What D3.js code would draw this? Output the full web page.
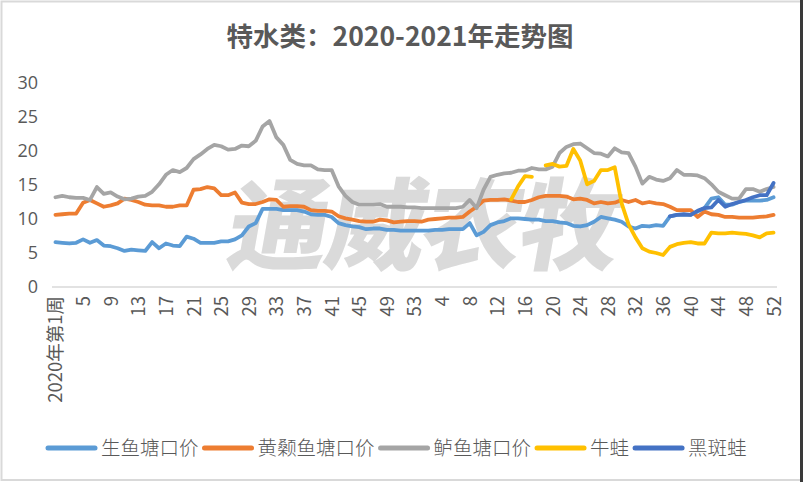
<!DOCTYPE html>
<html>
<head>
<meta charset="utf-8">
<script src="https://cdn.jsdelivr.net/npm/d3@7"></script>
<style>
  html, body { margin: 0; padding: 0; background: #ffffff; }
  svg { display: block; }
</style>
</head>
<body>
<svg id="chart" width="804" height="482"></svg>
<script>
// ---------- data ----------
const title = "特水类：2020-2021年走势图";
const watermark = "通威农牧";
const weeks2020 = d3.range(1, 54).map(w => "2020-" + w);
const weeks2021 = d3.range(1, 53).map(w => "2021-" + w);
const categories = weeks2020.concat(weeks2021);

const tickLabels = ["2020年第1周","5","9","13","17","21","25","29","33","37","41","45","49","53",
                    "4","8","12","16","20","24","28","32","36","40","44","48","52"];
const yTicks = [0, 5, 10, 15, 20, 25, 30];

const seriesNames = ["生鱼塘口价", "黄颡鱼塘口价", "鲈鱼塘口价", "牛蛙", "黑斑蛙"];
const seriesColors = ["#5B9BD5", "#ED7D31", "#A5A5A5", "#FFC000", "#4472C4"];

const shengyu = [
  6.6, 6.5, 6.4, 6.5, 7.0, 6.5, 6.9, 6.1, 6.0, 5.7,
  5.3, 5.5, 5.4, 5.3, 6.6, 5.7, 6.4, 6.1, 6.0, 7.4,
  7.1, 6.5, 6.5, 6.5, 6.7, 6.7, 7.0, 7.6, 8.9, 9.4,
  11.5, 11.5, 11.5, 11.3, 11.3, 11.3, 11.1, 10.7, 10.6, 10.6,
  10.3, 9.4, 9.1, 8.9, 8.8, 8.5, 8.6, 8.6, 8.4, 8.4,
  8.3, 8.3, 8.3, 8.3, 8.3, 8.4, 8.4, 8.5, 8.5, 8.5,
  9.4, 7.6, 8.1, 9.1, 9.5, 9.7, 10.1, 10.1, 10.0, 9.9,
  9.9, 9.7, 9.7, 9.5, 9.4, 9.0, 8.9, 9.1, 9.6, 10.3,
  10.1, 9.9, 9.6, 8.9, 8.6, 9.0, 8.9, 9.1, 9.0, 10.4,
  10.6, 10.6, 10.6, 11.1, 11.6, 13.0, 13.2, 12.1, 12.1, 12.5,
  12.7, 12.7, 12.7, 12.8, 13.2
];
const huangsang = [
  10.6, 10.7, 10.8, 10.8, 12.4, 12.8, 12.3, 11.8, 12.0, 12.3,
  13.0, 12.8, 12.5, 12.1, 12.0, 12.0, 11.8, 11.8, 12.0, 12.0,
  14.3, 14.4, 14.7, 14.5, 13.5, 13.5, 13.9, 12.4, 12.2, 12.2,
  12.5, 12.9, 12.8, 11.8, 11.9, 11.9, 11.8, 11.3, 11.2, 11.2,
  11.1, 10.4, 10.1, 9.9, 9.7, 9.6, 9.6, 9.9, 9.8, 9.5,
  9.6, 9.7, 9.7, 9.6, 9.9, 10.0, 10.1, 10.2, 10.2, 10.3,
  11.1, 11.8, 12.7, 12.8, 12.8, 12.9, 12.7, 12.5, 12.5, 12.8,
  13.2, 13.4, 13.4, 13.4, 13.3, 12.9, 13.0, 12.8, 12.3, 12.5,
  12.3, 12.4, 12.8, 12.5, 12.8, 12.3, 12.5, 12.3, 12.2, 11.8,
  11.3, 11.3, 11.3, 10.3, 11.1, 10.7, 10.6, 10.3, 10.3, 10.2,
  10.2, 10.2, 10.3, 10.4, 10.6
];
const luyu = [
  13.2, 13.4, 13.2, 13.1, 13.1, 12.8, 14.7, 13.7, 13.9, 13.3,
  12.9, 13.0, 13.3, 13.4, 14.0, 15.1, 16.5, 17.2, 16.9, 17.5,
  18.8, 19.5, 20.3, 20.9, 20.7, 20.2, 20.3, 20.8, 20.7, 21.5,
  23.6, 24.4, 22.0, 20.9, 18.7, 18.1, 17.9, 17.9, 17.3, 17.2,
  17.2, 14.8, 13.4, 12.5, 12.1, 12.1, 12.1, 12.2, 11.8, 11.8,
  11.8, 11.7, 11.7, 11.6, 11.6, 11.6, 11.6, 11.6, 11.6, 11.8,
  12.8, 11.6, 14.3, 16.2, 16.5, 16.7, 16.8, 17.1, 17.1, 17.5,
  17.3, 17.3, 17.7, 19.7, 20.6, 21.0, 21.1, 20.4, 19.7, 19.6,
  19.2, 20.4, 19.8, 19.7, 17.7, 15.2, 16.2, 15.8, 15.6, 16.0,
  17.2, 16.5, 16.5, 16.4, 16.0, 15.1, 14.0, 13.5, 13.0, 13.0,
  14.4, 14.4, 14.0, 14.4, 14.7
];
const niuwa = [
  null, null, null, null, null, null, null, null, null, null,
  null, null, null, null, null, null, null, null, null, null,
  null, null, null, null, null, null, null, null, null, null,
  null, null, null, null, null, null, null, null, null, null,
  null, null, null, null, null, null, null, null, null, null,
  null, null, null, null, null, null, null, null, null, null,
  null, null, null, null, null, null, 12.9, 14.8, 16.3, 16.2,
  null, 17.9, 18.1, 17.7, 17.8, 20.3, 18.6, 15.1, 15.6, 17.2,
  17.2, 17.6, 12.3, 9.2, 7.3, 5.7, 5.2, 5.0, 4.7, 5.9,
  6.3, 6.5, 6.6, 6.4, 6.4, 8.0, 7.9, 7.9, 8.0, 7.9,
  7.8, 7.6, 7.3, 7.9, 8.0
];
const heibanwa = [
  null, null, null, null, null, null, null, null, null, null,
  null, null, null, null, null, null, null, null, null, null,
  null, null, null, null, null, null, null, null, null, null,
  null, null, null, null, null, null, null, null, null, null,
  null, null, null, null, null, null, null, null, null, null,
  null, null, null, null, null, null, null, null, null, null,
  null, null, null, null, null, null, null, null, null, null,
  null, null, null, null, null, null, null, null, null, null,
  null, null, null, null, null, null, null, null, null, 10.4,
  10.6, 10.7, 10.6, 11.2, 11.6, 11.7, 12.8, 11.8, 12.2, 12.5,
  12.8, 13.2, 13.5, 13.5, 15.3
];
const seriesValues = [shengyu, huangsang, luyu, niuwa, heibanwa];

// ---------- drawing ----------
const svg = d3.select("#chart");
const W = 804, H = 482;
const plot = { left: 52, right: 777, top: 83, bottom: 287 };
const textColor = "#595959";
const cjk = "'Noto Sans CJK SC', 'Noto Sans', sans-serif";

// border
svg.append("rect").attr("x", 1.5).attr("y", 1.5).attr("width", W - 4).attr("height", H - 3.5)
  .attr("fill", "#fff").attr("stroke", "#d9d9d9").attr("stroke-width", 2);
svg.append("line").attr("x1", 801.5).attr("x2", 801.5).attr("y1", 0).attr("y2", H)
  .attr("stroke", "#3a3a3a").attr("stroke-width", 3);

// title
svg.append("text").attr("x", 400).attr("y", 46).attr("text-anchor", "middle")
  .attr("font-family", cjk).attr("font-weight", "bold").attr("font-size", 26.5)
  .attr("fill", textColor).text(title);

const x = d3.scalePoint().domain(categories).range([plot.left, plot.right]).padding(0.5);
const y = d3.scaleLinear().domain([0, 30]).range([plot.bottom, plot.top]);

// watermark
svg.append("text").attr("x", 0).attr("y", 0)
  .attr("transform", "translate(418,262) skewX(-10)")
  .attr("text-anchor", "middle")
  .attr("font-family", cjk).attr("font-weight", 900).attr("font-size", 100)
  .attr("fill", "#d4d4d4").attr("opacity", 0.85)
  .attr("letter-spacing", -3)
  .text(watermark);

// y axis
const yAxis = d3.axisLeft(y).tickValues(yTicks).tickSize(0).tickPadding(0);
const gy = svg.append("g").attr("transform", "translate(38,0)").call(yAxis);
gy.select(".domain").remove();
gy.selectAll("text").attr("font-family", "'Open Sans', 'Noto Sans', sans-serif")
  .attr("font-size", 18).attr("fill", textColor);

// x axis
const tickIdx = tickLabels.map((d, i) => categories[i * 4]);
const xAxis = d3.axisBottom(x).tickValues(tickIdx)
  .tickFormat((d, i) => tickLabels[i]).tickSize(0).tickPadding(0);
const gx = svg.append("g").attr("transform", `translate(0,${plot.bottom})`).call(xAxis);
gx.select(".domain").attr("stroke", "#d9d9d9").attr("stroke-width", 1.5)
  .attr("d", `M${plot.left},0H${plot.right}`);
gx.selectAll("text")
  .attr("font-family", cjk).attr("font-size", 18.5).attr("fill", textColor)
  .attr("text-anchor", "end").attr("dy", "0.35em")
  .attr("transform", "translate(0,9) rotate(-90)")
  .attr("x", 0).attr("y", 0);

// lines
const line = d3.line()
  .defined(d => d != null)
  .x((d, i) => x(categories[i]))
  .y(d => y(d));

seriesValues.forEach((vals, k) => {
  svg.append("path")
    .attr("d", line(vals))
    .attr("fill", "none")
    .attr("stroke", seriesColors[k])
    .attr("stroke-width", 3.8)
    .attr("stroke-linejoin", "round")
    .attr("stroke-linecap", "round");
});

// legend
const lg = svg.append("g");
let lx = 48;
const ly = 448;
seriesNames.forEach((name, k) => {
  lg.append("line").attr("x1", lx).attr("x2", lx + 47).attr("y1", ly).attr("y2", ly)
    .attr("stroke", seriesColors[k]).attr("stroke-width", 5).attr("stroke-linecap", "round");
  const t = lg.append("text").attr("x", lx + 53).attr("y", ly).attr("dy", "0.36em")
    .attr("font-family", cjk).attr("font-size", 19.5).attr("font-weight", 300)
    .attr("fill", textColor).text(name);
  lx += 53 + t.node().getComputedTextLength() + 6;
});
</script>
</body>
</html>
